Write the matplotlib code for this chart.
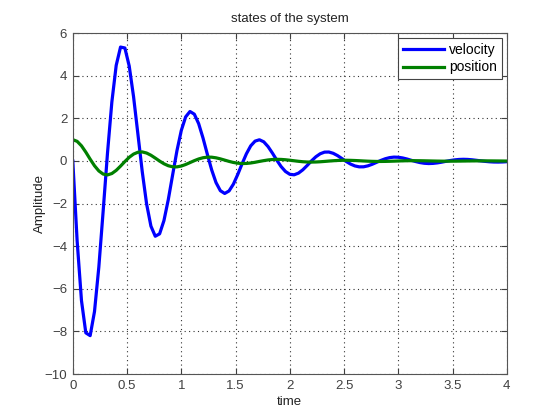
import numpy as np
import matplotlib
matplotlib.use("Agg")
import matplotlib.pyplot as plt

plt.rcParams['font.family'] = ['Liberation Sans', 'DejaVu Sans']

# samples every 0.04 s
t = np.linspace(0, 4, 101)

velocity = [0.00, -3.756, -6.555, -8.068, -8.199, -7.066, -4.974, -2.337, 0.386, 2.771,
            4.489, 5.348, 5.305, 4.457, 3.018, 1.265, -0.500, -2.009, -3.057, -3.532,
            -3.420, -2.799, -1.815, -0.655, 0.485, 1.435, 2.070, 2.324, 2.198, 1.752,
            1.081, 0.316, -0.419, -1.014, -1.395, -1.524, -1.407, -1.088, -0.636, -0.134,
            0.338, 0.712, 0.933, 0.996, 0.900, 0.673, 0.369, 0.040, -0.262, -0.492,
            -0.625, -0.648, -0.570, -0.414, -0.211, 0.005, 0.197, 0.339, 0.416, 0.421,
            0.361, 0.253, 0.117, -0.023, -0.145, -0.232, -0.275, -0.273, -0.228, -0.153,
            -0.063, 0.028, 0.105, 0.158, 0.182, 0.175, 0.143, 0.093, 0.032, -0.026,
            -0.075, -0.107, -0.120, -0.112, -0.089, -0.055, -0.015, 0.022, 0.053, 0.072,
            0.079, 0.073, 0.056, 0.032, 0.006, -0.018, -0.037, -0.048, -0.051, -0.046,
            -0.034]

position = [1.000, 0.9225, 0.7123, 0.4152, 0.0852, -0.2239, -0.4674, -0.6147, -0.6532, -0.5883,
            -0.4404, -0.2406, -0.0246, 0.1731, 0.3241, 0.4104, 0.4253, 0.3738, 0.2707, 0.1369,
            -0.0040, -0.1299, -0.2231, -0.2728, -0.2758, -0.2365, -0.1652, -0.0757, 0.0156, 0.0952,
            0.1527, 0.1807, 0.1783, 0.1491, 0.1001, 0.0409, -0.0185, -0.0690, -0.1038, -0.1192,
            -0.1149, -0.0934, -0.0605, -0.0201, 0.0165, 0.0492, 0.0702, 0.0784, 0.0738, 0.0584,
            0.0357, 0.0099, -0.0148, -0.0347, -0.0473, -0.0514, -0.0472, -0.0363, -0.0208, -0.0040,
            0.0118, 0.0242, 0.0317, 0.0335, 0.0301, 0.0224, 0.0121, 0.0010, -0.0091, -0.0168,
            -0.0212, -0.0218, -0.0191, -0.0137, -0.0068, 0.0004, 0.0068, 0.0115, 0.0140, 0.0142,
            0.0121, 0.0084, 0.0038, -0.0009, -0.0050, -0.0079, -0.0093, -0.0091, -0.0077, -0.0051,
            -0.0020, 0.0010, 0.0036, 0.0054, 0.0062, 0.0059, 0.0048, 0.0030, 0.0010, -0.0009,
            -0.0025]

xticks = [0, 0.5, 1, 1.5, 2, 2.5, 3, 3.5, 4]
xtick_labels = ['0', '0.5', '1', '1.5', '2', '2.5', '3', '3.5', '4']
yticks = [-10, -8, -6, -4, -2, 0, 2, 4, 6]

fig = plt.figure(figsize=(5.6, 4.2), dpi=100)
ax = fig.add_axes([0.130, 0.1095, 0.775, 0.8115])

ax.plot(t, velocity, color=(0, 0, 1), lw=2.3, label='velocity')
ax.plot(t, position, color=(0, 0.5, 0), lw=2.3, label='position')

ax.set_xlim(0, 4)
ax.set_ylim(-10, 6)
ax.set_xticks(xticks)
ax.set_xticklabels(xtick_labels)
ax.set_yticks(yticks)
ax.grid(True, linestyle=(0, (1, 3)), color='#333333', linewidth=0.8)
ax.tick_params(direction='in', top=True, right=True, length=4, labelsize=9.5,
               colors='#404040', pad=4)
for s in ax.spines.values():
    s.set_color('#555555')
    s.set_linewidth(0.8)

ax.set_title('states of the system', fontsize=9.5, pad=8, color='#222222')
ax.set_xlabel('time', fontsize=9.5, labelpad=3, color='#222222')
ax.set_ylabel('Amplitude', fontsize=9.5, labelpad=-1, color='#222222')

leg = ax.legend(loc='upper right', fontsize=10, fancybox=False, framealpha=1,
                edgecolor='#444444', borderaxespad=0.35, handlelength=3.0,
                handletextpad=0.35, labelspacing=0.25, borderpad=0.35)
leg.get_frame().set_linewidth(0.8)

fig.savefig('out.png', dpi=100)
